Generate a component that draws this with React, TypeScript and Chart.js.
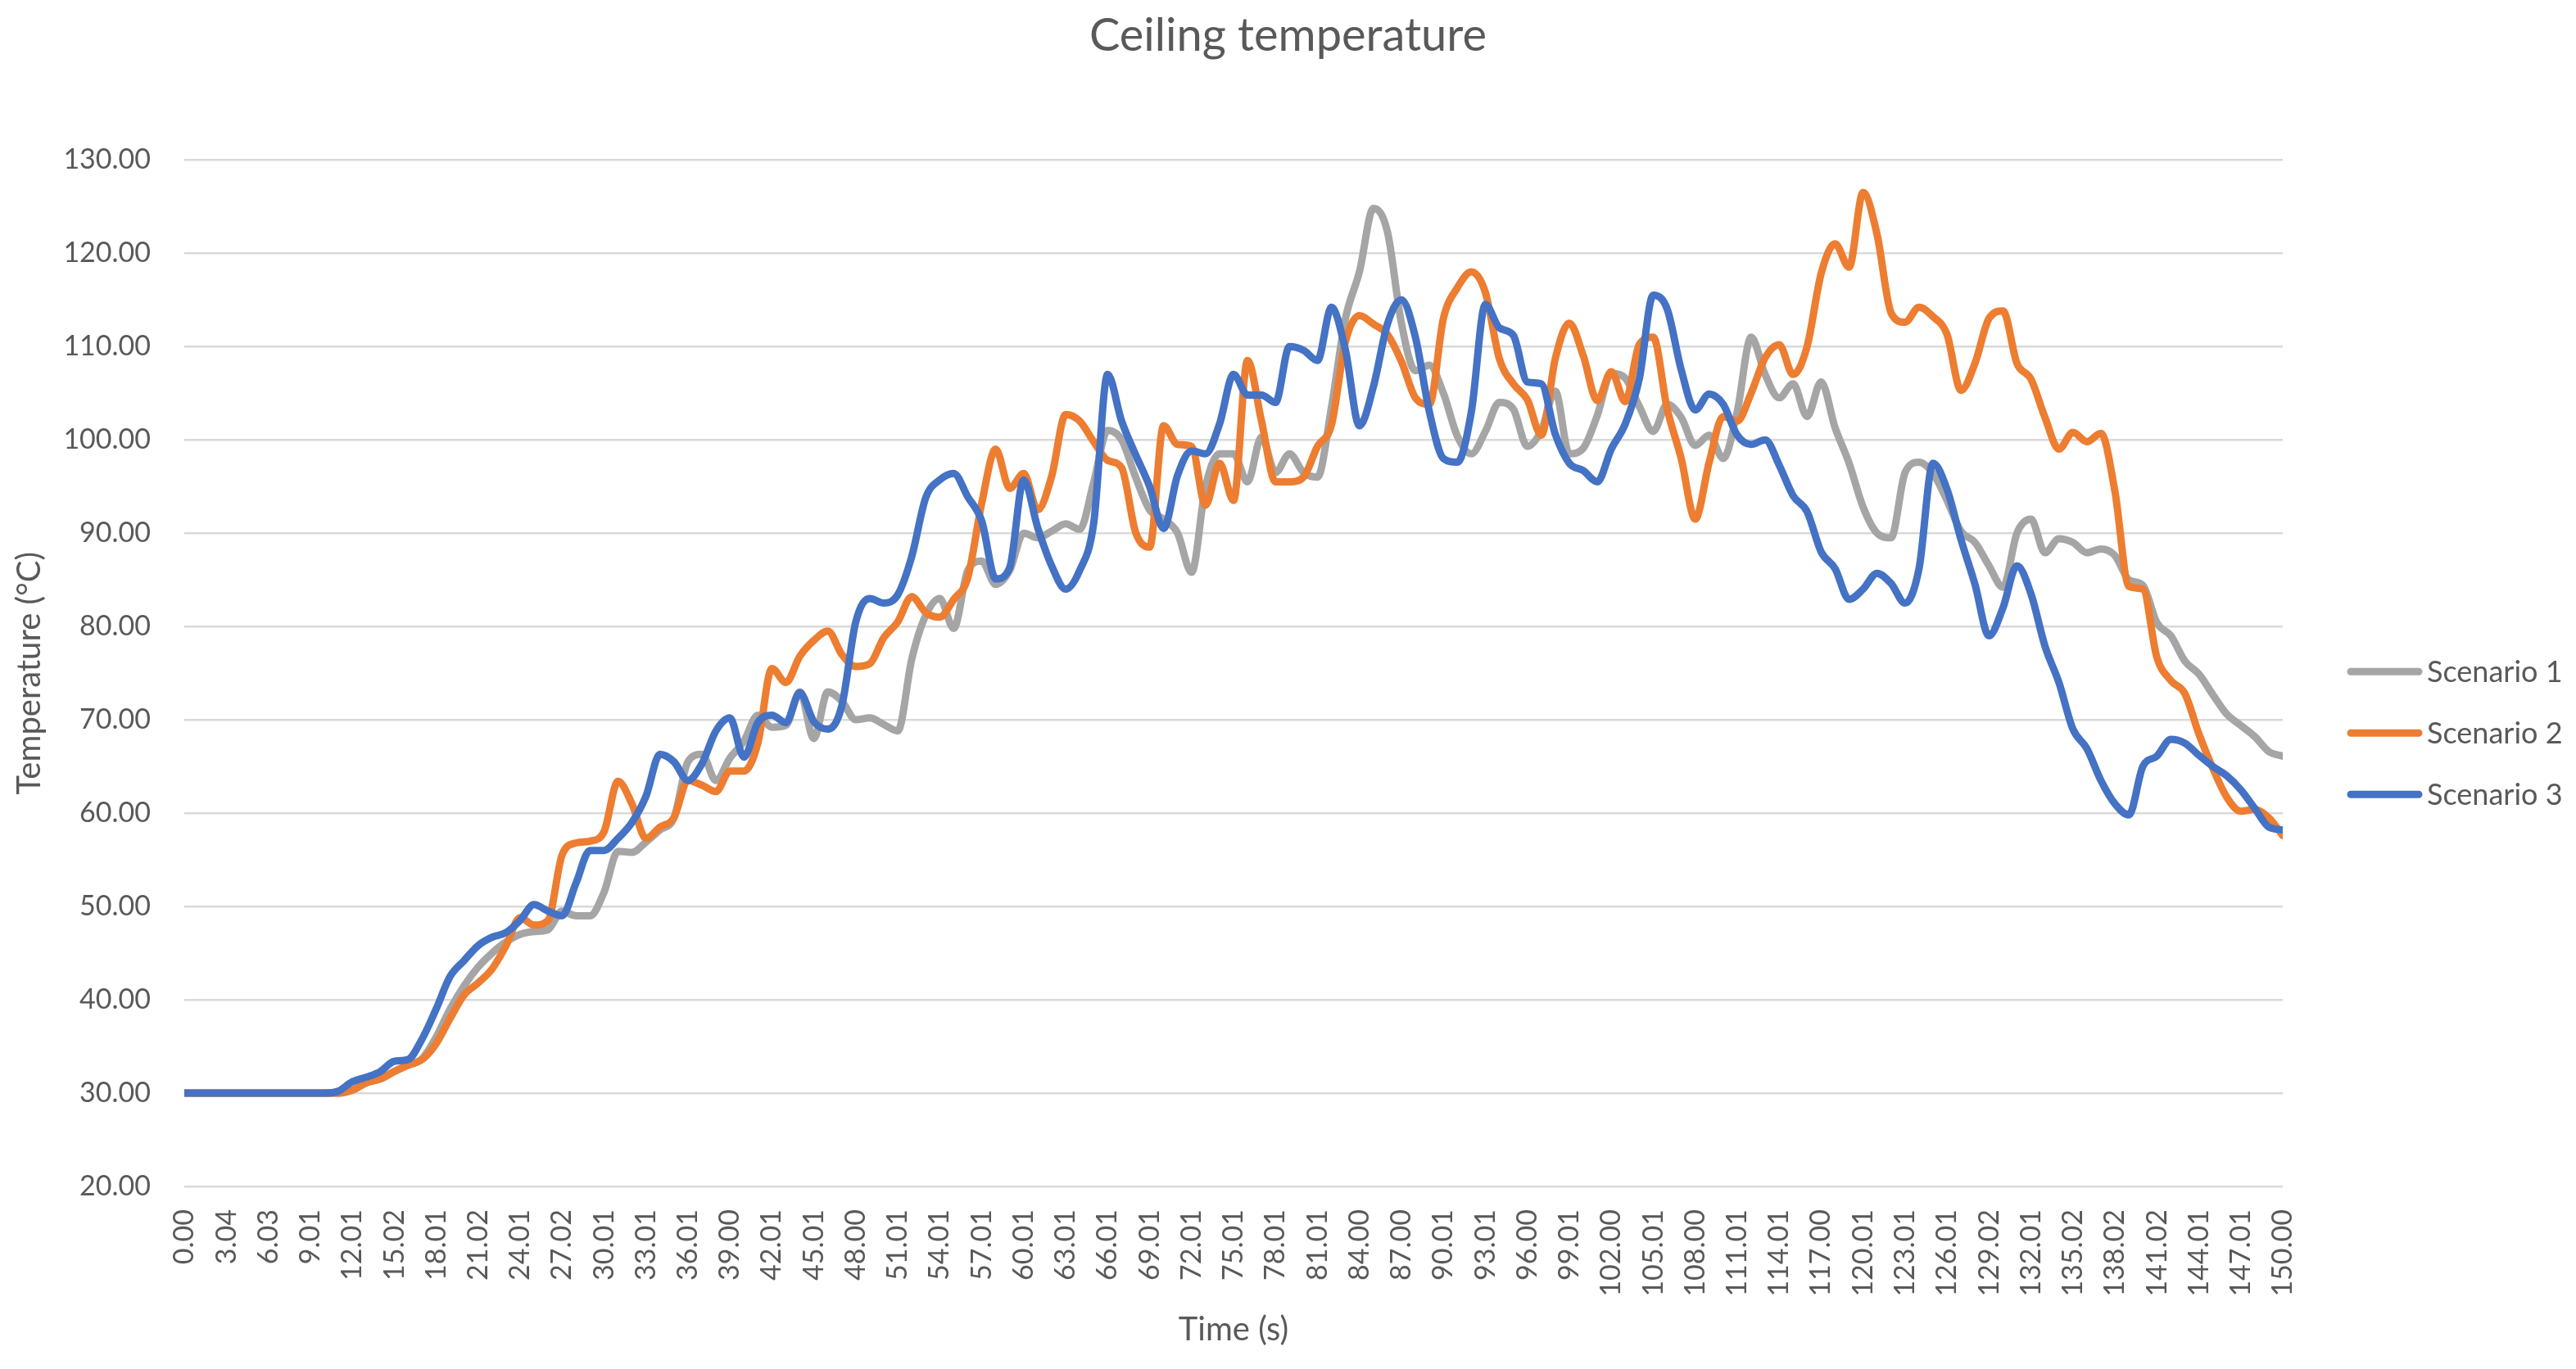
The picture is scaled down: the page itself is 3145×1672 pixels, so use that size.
import { useEffect, useRef } from "react"
import { Chart, registerables } from "chart.js"

Chart.register(...registerables)

// Time axis (s), one reading per second
const seconds = [
  0, 1, 2, 3, 4, 5, 6, 7, 8, 9,
  10, 11, 12, 13, 14, 15, 16, 17, 18, 19,
  20, 21, 22, 23, 24, 25, 26, 27, 28, 29,
  30, 31, 32, 33, 34, 35, 36, 37, 38, 39,
  40, 41, 42, 43, 44, 45, 46, 47, 48, 49,
  50, 51, 52, 53, 54, 55, 56, 57, 58, 59,
  60, 61, 62, 63, 64, 65, 66, 67, 68, 69,
  70, 71, 72, 73, 74, 75, 76, 77, 78, 79,
  80, 81, 82, 83, 84, 85, 86, 87, 88, 89,
  90, 91, 92, 93, 94, 95, 96, 97, 98, 99,
  100, 101, 102, 103, 104, 105, 106, 107, 108, 109,
  110, 111, 112, 113, 114, 115, 116, 117, 118, 119,
  120, 121, 122, 123, 124, 125, 126, 127, 128, 129,
  130, 131, 132, 133, 134, 135, 136, 137, 138, 139,
  140, 141, 142, 143, 144, 145, 146, 147, 148, 149,
  150,
]

// Labels shown on the time axis
const tickLabels = [
  "0.00", "3.04", "6.03", "9.01", "12.01", "15.02", "18.01", "21.02", "24.01", "27.02",
  "30.01", "33.01", "36.01", "39.00", "42.01", "45.01", "48.00", "51.01", "54.01", "57.01",
  "60.01", "63.01", "66.01", "69.01", "72.01", "75.01", "78.01", "81.01", "84.00", "87.00",
  "90.01", "93.01", "96.00", "99.01", "102.00", "105.01", "108.00", "111.01", "114.01", "117.00",
  "120.01", "123.01", "126.01", "129.02", "132.01", "135.02", "138.02", "141.02", "144.01", "147.01",
  "150.00",
]

const scenario1 = [
  30, 30, 30, 30, 30, 30, 30, 30, 30, 30,
  30, 30, 30.3, 31.1, 31.5, 32.3, 33, 33.7, 36, 39,
  41.5, 43.5, 45, 46.2, 47, 47.3, 47.5, 49.5, 49, 49,
  51.5, 55.9, 55.8, 56.9, 58.2, 59.5, 65.5, 66.3, 63.5, 65.9,
  67.7, 70.5, 69.2, 69.4, 73, 68, 73, 72, 70, 70.2,
  69.5, 68.8, 76.5, 81.2, 83, 79.8, 86, 87, 84.5, 86,
  90, 89.5, 90.2, 91, 90.4, 95.4, 101, 100, 96, 92.5,
  91.5, 90, 85.8, 95, 98.5, 98.5, 95.5, 100.3, 96.5, 98.5,
  96.5, 96, 103.5, 113, 118, 124.8, 122.3, 112.5, 107.4, 108,
  105, 100.4, 98.5, 100.9, 104, 103.3, 99.3, 101, 105.2, 98.5,
  99.1, 102.6, 107.1, 106.6, 103.6, 100.9, 103.8, 102.4, 99.4, 100.5,
  98, 103, 111, 107, 104.5, 106, 102.5, 106.2, 101.3, 97.5,
  92.8, 90, 89.5, 96.5, 97.6, 96.4, 93.5, 90.2, 89, 86.5,
  84.2, 90, 91.5, 87.9, 89.4, 89, 87.9, 88.3, 87.6, 85,
  84.4, 80.4, 79, 76.3, 74.9, 72.7, 70.6, 69.4, 68.2, 66.6,
  66.1,
]

const scenario2 = [
  30, 30, 30, 30, 30, 30, 30, 30, 30, 30,
  30, 30, 30.3, 31.1, 31.5, 32.3, 33, 33.6, 35.3, 38,
  40.5, 41.8, 43.3, 45.8, 48.8, 48, 48.5, 55.5, 56.8, 57,
  58, 63.4, 61, 57.3, 58.5, 59.5, 63.5, 63, 62.3, 64.5,
  64.5, 67.5, 75.5, 74, 76.8, 78.5, 79.5, 77, 75.7, 76,
  78.8, 80.5, 83.2, 81.5, 81, 82.9, 85.2, 93.2, 99, 94.8,
  96.4, 92.5, 96.1, 102.7, 102, 99.8, 97.8, 97, 90.1, 88.5,
  101.5, 99.5, 99.3, 93, 97.5, 93.5, 108.5, 102, 95.5, 95.5,
  96, 99.3, 101.6, 110.5, 113.3, 112.4, 111.3, 108.4, 104.5, 103.8,
  113, 116.3, 118, 115.8, 108.7, 106, 104.3, 100.5, 108.7, 112.5,
  109, 104.2, 107.3, 104.1, 110.2, 111, 103.3, 98, 91.5, 97.6,
  102.5, 102, 105, 108.8, 110.2, 107, 110, 117.8, 121, 118.5,
  126.5, 122, 113.6, 112.6, 114.2, 113.2, 111.3, 105.3, 108.2, 113,
  113.8, 108.2, 106.5, 102.4, 99, 100.8, 99.8, 100.7, 94.5, 84.3,
  84, 76.7, 74.2, 72.8, 68.5, 64.8, 61.7, 60.2, 60.4, 59.5,
  57.6,
]

const scenario3 = [
  30, 30, 30, 30, 30, 30, 30, 30, 30, 30,
  30, 30.2, 31.2, 31.7, 32.3, 33.4, 33.6, 35.8, 39, 42.5,
  44.2, 45.8, 46.7, 47.2, 48.5, 50.2, 49.5, 49, 52.5, 56,
  56, 57.3, 59, 61.8, 66.3, 65.5, 63.5, 65.3, 68.8, 70.2,
  66, 69.7, 70.5, 69.7, 72.9, 69.8, 69, 71.5, 80.5, 83,
  82.5, 83.4, 87.5, 93.8, 95.7, 96.4, 93.9, 91.3, 85.1, 86.3,
  95.7, 90.6, 86.5, 84, 86, 91, 107, 102, 98.4, 95,
  90.5, 96.2, 98.8, 98.5, 101.7, 107, 104.8, 104.8, 104, 110,
  109.6, 108.5, 114.2, 109.6, 101.5, 105.7, 112.4, 115, 111, 103,
  98, 97.6, 103, 114.5, 112, 111.2, 106.2, 106, 100.6, 97.5,
  96.7, 95.5, 99, 101.7, 106.5, 115.5, 114, 107.5, 103.2, 104.9,
  103.8, 100.5, 99.5, 100, 97.3, 94, 92.3, 88, 86.2, 82.9,
  84, 85.7, 84.6, 82.5, 86.2, 97.5, 94.7, 89.3, 84.5, 79,
  82, 86.5, 83.5, 77.9, 74, 69, 66.9, 63.5, 61, 59.8,
  65, 66.1, 67.9, 67.5, 66.2, 65, 64, 62.5, 60.5, 58.5,
  58.2,
]

const seriesNames = ["Scenario 1", "Scenario 2", "Scenario 3"]
const seriesColors = ["#A5A5A5", "#ED7D31", "#4472C4"]
const seriesValues = [scenario1, scenario2, scenario3]

const FONT = "Lato, 'Open Sans', sans-serif"
const TEXT = "#595959"

// Excel-style legend to the right of the plot
const sideLegend = {
  id: "sideLegend",
  afterDraw(chart: Chart) {
    const { ctx, chartArea } = chart
    ctx.save()
    ctx.font = `36px ${FONT}`
    ctx.textBaseline = "middle"
    chart.data.datasets.forEach((ds: any, i: number) => {
      const y = chartArea.top + 625 + i * 75
      const x0 = chartArea.right + 79
      ctx.strokeStyle = ds.borderColor
      ctx.lineWidth = 9
      ctx.lineCap = "round"
      ctx.beginPath()
      ctx.moveTo(x0 + 4, y)
      ctx.lineTo(x0 + 87, y)
      ctx.stroke()
      ctx.fillStyle = TEXT
      ctx.fillText(ds.label, x0 + 97, y + 1)
    })
    ctx.restore()
  },
}

function CeilingTemperatureChart() {
  const chartRef = useRef<HTMLCanvasElement>(null)
  const chartInstance = useRef<Chart | null>(null)

  useEffect(() => {
    if (!chartRef.current) return
    if (chartInstance.current) chartInstance.current.destroy()

    const ctx = chartRef.current.getContext("2d")
    if (!ctx) return

    Chart.defaults.font.family = FONT

    chartInstance.current = new Chart(ctx, {
      type: "line",
      data: {
        datasets: seriesValues.map((values, i) => ({
          label: seriesNames[i],
          data: values.map((v, j) => ({ x: seconds[j], y: v })),
          borderColor: seriesColors[i],
          backgroundColor: seriesColors[i],
          borderWidth: 9,
          borderJoinStyle: "round" as const,
          borderCapStyle: "round" as const,
          pointRadius: 0,
          cubicInterpolationMode: "monotone" as const,
          order: 2 - i,
        })),
      },
      options: {
        animation: false,
        responsive: true,
        maintainAspectRatio: false,
        layout: { padding: 0 },
        plugins: {
          legend: { display: false },
          tooltip: { enabled: false },
          title: {
            display: true,
            text: "Ceiling temperature",
            color: TEXT,
            font: { size: 56, weight: "normal" },
            padding: { top: 2, bottom: 118 },
          },
        },
        scales: {
          x: {
            type: "linear",
            min: 0,
            max: 150,
            afterBuildTicks: (scale: any) => {
              scale.ticks = tickLabels.map((l) => ({ value: parseFloat(l) }))
            },
            afterFit: (scale: any) => {
              scale.height = 215
            },
            grid: { display: false, drawTicks: false },
            border: { display: false },
            ticks: {
              autoSkip: false,
              minRotation: 90,
              maxRotation: 90,
              padding: 28,
              color: TEXT,
              font: { size: 34 },
              callback: (v: any) => Number(v).toFixed(2),
            },
            title: {
              display: true,
              text: "Time (s)",
              color: TEXT,
              font: { size: 40 },
              padding: { top: 0, bottom: 16 },
            },
          },
          y: {
            min: 20,
            max: 130,
            afterFit: (scale: any) => {
              scale.width = 217
            },
            grid: { color: "#D9D9D9", lineWidth: 2.5, drawTicks: false },
            border: { display: false },
            ticks: {
              stepSize: 10,
              padding: 41,
              color: TEXT,
              font: { size: 34 },
              callback: (v: any) => Number(v).toFixed(2),
            },
            title: {
              display: true,
              text: "Temperature (°C)",
              color: TEXT,
              font: { size: 40 },
              padding: { top: 4, bottom: 0 },
            },
          },
          // empty column that holds the legend space on the right
          legendSpace: {
            type: "linear",
            position: "right",
            afterFit: (scale: any) => {
              scale.width = 350
            },
            grid: { display: false, drawTicks: false },
            border: { display: false },
            ticks: { display: false },
          },
        },
      },
      plugins: [sideLegend],
    })

    return () => {
      if (chartInstance.current) {
        chartInstance.current.destroy()
        chartInstance.current = null
      }
    }
  }, [])

  return (
    <div style={{ position: "relative", width: "100%", height: "1656px" }}>
      <canvas ref={chartRef} aria-label="Ceiling temperature chart"></canvas>
    </div>
  )
}

export default function App() {
  return <CeilingTemperatureChart />
}
